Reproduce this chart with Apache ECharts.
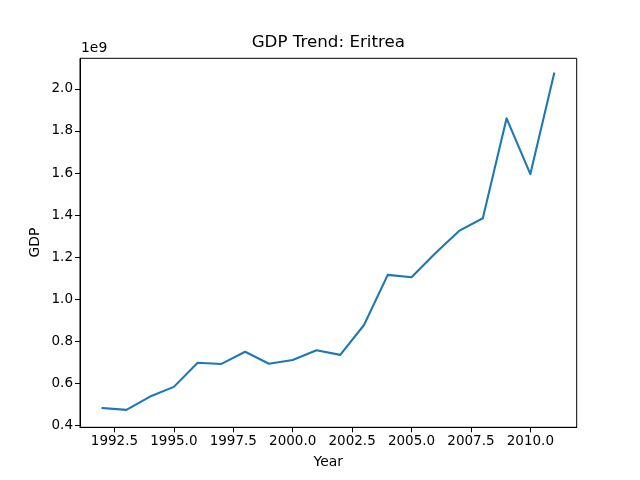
<!DOCTYPE html>
<html>
<head>
<meta charset="utf-8">
<script src="https://cdn.jsdelivr.net/npm/echarts@6/dist/echarts.min.js"></script>
<style>html,body{margin:0;padding:0;background:#fff}#c{width:640px;height:480px}</style>
</head>
<body>
<div id="c"></div>
<script>
// Data (GDP in units of 1e9 US$)
const years = [1992,1993,1994,1995,1996,1997,1998,1999,2000,2001,2002,2003,2004,2005,2006,2007,2008,2009,2010,2011];
const gdp = [0.483,0.475,0.538,0.584,0.699,0.693,0.751,0.694,0.712,0.758,0.736,0.878,1.116,1.105,1.219,1.325,1.385,1.860,1.595,2.073];
const xTicks = [1992.5,1995.0,1997.5,2000.0,2002.5,2005.0,2007.5,2010.0];
const yTicks = [0.4,0.6,0.8,1.0,1.2,1.4,1.6,1.8,2.0];

const F = 'DejaVu Sans';
const chart = echarts.init(document.getElementById('c'), null, {renderer:'canvas'});
const gL = 80, gR = 63.3, gT = 58.3, gB = 52.7;
chart.setOption({
  animation: false,
  backgroundColor: '#fff',
  grid: {left: gL, right: gR, top: gT, bottom: gB, show: true, borderColor: '#000', borderWidth: 1, backgroundColor: 'transparent'},
  xAxis: {
    type: 'value', min: 1991.05, max: 2011.95,
    splitLine: {show: false},
    axisLine: {show: true, lineStyle: {color: '#000', width: 1}},
    axisTick: {show: true, inside: false, length: 5, lineStyle: {color: '#000', width: 1}, customValues: xTicks},
    axisLabel: {show: true, color: '#000', fontFamily: F, fontSize: 13.5, margin: 7, customValues: xTicks,
      formatter: v => v.toFixed(1)},
    data: null
  },
  yAxis: {
    type: 'value', min: 0.392, max: 2.145,
    splitLine: {show: false},
    axisLine: {show: true, lineStyle: {color: '#000', width: 1}},
    axisTick: {show: true, inside: false, length: 5, lineStyle: {color: '#000', width: 1}, customValues: yTicks},
    axisLabel: {show: true, color: '#000', fontFamily: F, fontSize: 13.5, margin: 7, customValues: yTicks,
      formatter: v => v.toFixed(1)}
  },
  series: [{
    type: 'line',
    data: years.map((y, i) => [y, gdp[i]]),
    showSymbol: false,
    symbol: 'none',
    lineStyle: {color: '#1f77b4', width: 2.1, cap: 'square', join: 'round'},
    itemStyle: {color: '#1f77b4'}
  }],
  graphic: [
    {type: 'text', left: 'auto', x: 328.3, y: 43, style: {text: 'GDP Trend: Eritrea', font: '16.7px "DejaVu Sans"', fill: '#000', align: 'center', verticalAlign: 'middle'}},
    {type: 'text', x: 328.3, y: 462, style: {text: 'Year', font: '13.9px "DejaVu Sans"', fill: '#000', align: 'center', verticalAlign: 'middle'}},
    {type: 'text', x: 35, y: 242.5, rotation: Math.PI/2, style: {text: 'GDP', font: '13.9px "DejaVu Sans"', fill: '#000', align: 'center', verticalAlign: 'middle'}},
    {type: 'text', x: 81, y: 48, style: {text: '1e9', font: '13.9px "DejaVu Sans"', fill: '#000', align: 'left', verticalAlign: 'middle'}}
  ]
});
</script>
</body>
</html>
